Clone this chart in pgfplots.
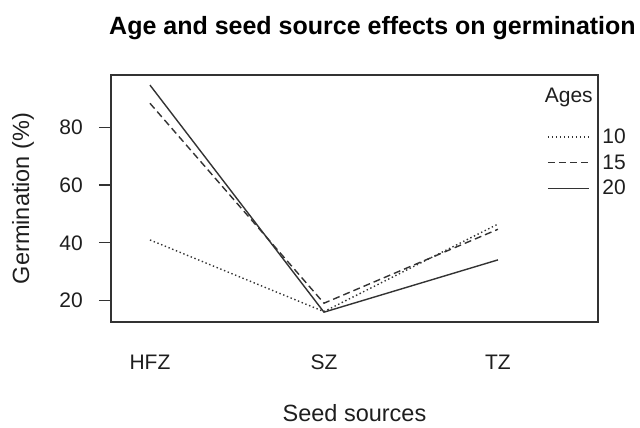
\documentclass[border=0pt]{standalone}
\usepackage{fontspec}
\setmainfont{Liberation Sans}
\usepackage{pgfplots}
\pgfplotsset{compat=1.18}
\definecolor{ln}{HTML}{333333}
\definecolor{tx}{HTML}{1E1E1E}
\begin{document}
\begin{tikzpicture}[x=1pt,y=1pt]
\path[use as bounding box] (0,0) rectangle (640,428);
\begin{axis}[
  at={(111pt,106pt)}, anchor=south west,
  scale only axis, width=487pt, height=247pt,
  xmin=0.776, xmax=3.575, ymin=12.6, ymax=98.1,
  clip=false,
  xtick={1,2,3}, xticklabels={HFZ,SZ,TZ},
  ytick={20,40,60,80},
  /pgf/number format/assume math mode=true,
  tick align=outside,
  major tick length=12pt,
  ytick pos=left, xtick pos=bottom,
  x tick style={draw=none},
  y tick style={draw=ln, line width=1.2pt},
  axis line style={draw=ln, line width=1.2pt},
  tick label style={font=\fontsize{21}{25}\selectfont, text=tx},
  xticklabel style={anchor=base, yshift=-36pt},
  yticklabel style={anchor=east, inner sep=0pt},
  yticklabel shift=16pt,
  xlabel={Seed sources},
  ylabel={Germination (\%)},
  label style={font=\fontsize{23.5}{28}\selectfont, text=tx},
  xlabel style={at={(axis description cs:0.5,0)}, anchor=center, yshift=-91pt},
  ylabel style={at={(axis description cs:-0.1807,0.5)}, anchor=center},
  title={Age and seed source effects on germination},
  title style={font=\fontsize{25}{30}\bfseries\selectfont, text=black, at={(axis description cs:0.5,1)}, anchor=center, xshift=18pt, yshift=41pt},
  legend style={at={(rel axis cs:0.895,0.782)}, anchor=north west, draw=none, fill=none,
    font=\fontsize{21}{25}\selectfont, text=tx, inner sep=0pt, row sep=9.5pt,
    nodes={inner sep=0pt},
    /tikz/every odd column/.append style={column sep=13pt}},
  legend cell align=left,
  legend image code/.code={\draw[#1] (0pt,0pt) -- (41pt,0pt);},
]
\addplot[ln, line width=1.4pt, dash pattern=on 1.4pt off 2.6pt] coordinates {(1,41.0) (2,16.2) (3,46.5)};
\addlegendentry{10}
\addplot[ln, line width=1.4pt, dash pattern=on 7pt off 4pt] coordinates {(1,88.3) (2,19.1) (3,44.7)};
\addlegendentry{15}
\addplot[ln, line width=1.4pt] coordinates {(1,94.6) (2,16.0) (3,34.1)};
\addlegendentry{20}
\node[font=\fontsize{21}{25}\selectfont, text=tx] at (rel axis cs:0.940,0.911) {Ages};
\end{axis}
\end{tikzpicture}
\end{document}
